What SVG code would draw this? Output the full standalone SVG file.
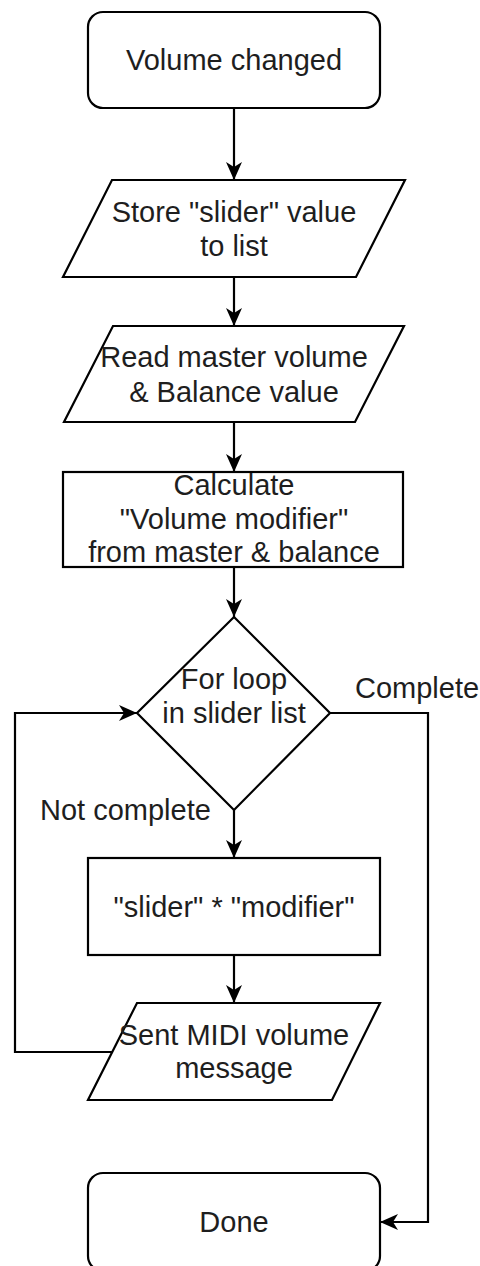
<svg xmlns="http://www.w3.org/2000/svg" width="480" height="1266" viewBox="0 0 480 1266">
<style>
.shape{fill:#ffffff;stroke:#000000;stroke-width:2.2}
.conn{fill:none;stroke:#000000;stroke-width:2.2}
.t{font-family:"Liberation Sans",Arial,sans-serif;font-size:29px;fill:#1e1e1e;text-anchor:middle}
.l{font-family:"Liberation Sans",Arial,sans-serif;font-size:29px;fill:#1e1e1e}
</style>
<defs>
<marker id="arrow" viewBox="0 0 18 16" refX="18" refY="8" markerWidth="18" markerHeight="16" markerUnits="userSpaceOnUse" orient="auto">
<path d="M0,0 L18,8 L0,16 L5,8 Z" fill="#000000"/>
</marker>
</defs>
<rect width="480" height="1266" fill="#ffffff"/>
<g id="connectors">
<path class="conn" d="M234,108 V180" marker-end="url(#arrow)"/>
<path class="conn" d="M234,277 V326" marker-end="url(#arrow)"/>
<path class="conn" d="M234,422 V472" marker-end="url(#arrow)"/>
<path class="conn" d="M234,567 V617" marker-end="url(#arrow)"/>
<path class="conn" d="M234,810 V858" marker-end="url(#arrow)"/>
<path class="conn" d="M234,955 V1003" marker-end="url(#arrow)"/>
<path class="conn" d="M112,1052 H15 V713 H137" marker-end="url(#arrow)"/>
<path class="conn" d="M330,713 H428 V1222 H380" marker-end="url(#arrow)"/>
<text class="l" x="355" y="698">Complete</text>
<text class="l" x="40" y="820">Not complete</text>
</g>
<g id="start">
<rect class="shape" x="88" y="12" width="292" height="96" rx="15" ry="15"/>
<text class="t" x="234" y="70">Volume changed</text>
</g>
<g id="store">
<polygon class="shape" points="112,180 405,180 356,277 63,277"/>
<text class="t" x="234" y="222">Store "slider" value</text>
<text class="t" x="234" y="256">to list</text>
</g>
<g id="read">
<polygon class="shape" points="113,326 404,326 355,422 64,422"/>
<text class="t" x="234" y="367">Read master volume</text>
<text class="t" x="234" y="402">&amp; Balance value</text>
</g>
<g id="calculate">
<rect class="shape" x="63" y="472" width="340" height="95"/>
<text class="t" x="234" y="495">Calculate</text>
<text class="t" x="234" y="529">"Volume modifier"</text>
<text class="t" x="234" y="562">from master &amp; balance</text>
</g>
<g id="loop">
<polygon class="shape" points="234,617 330,713 234,810 137,713"/>
<text class="t" x="234" y="689">For loop</text>
<text class="t" x="234" y="723">in slider list</text>
</g>
<g id="multiply">
<rect class="shape" x="88" y="858" width="292" height="97"/>
<text class="t" x="234" y="917">"slider" * "modifier"</text>
</g>
<g id="send">
<polygon class="shape" points="137,1003 380,1003 332,1100 88,1100"/>
<text class="t" x="234" y="1045">Sent MIDI volume</text>
<text class="t" x="234" y="1078">message</text>
</g>
<g id="done">
<rect class="shape" x="88" y="1173" width="292" height="98" rx="15" ry="15"/>
<text class="t" x="234" y="1232">Done</text>
</g>
</svg>
